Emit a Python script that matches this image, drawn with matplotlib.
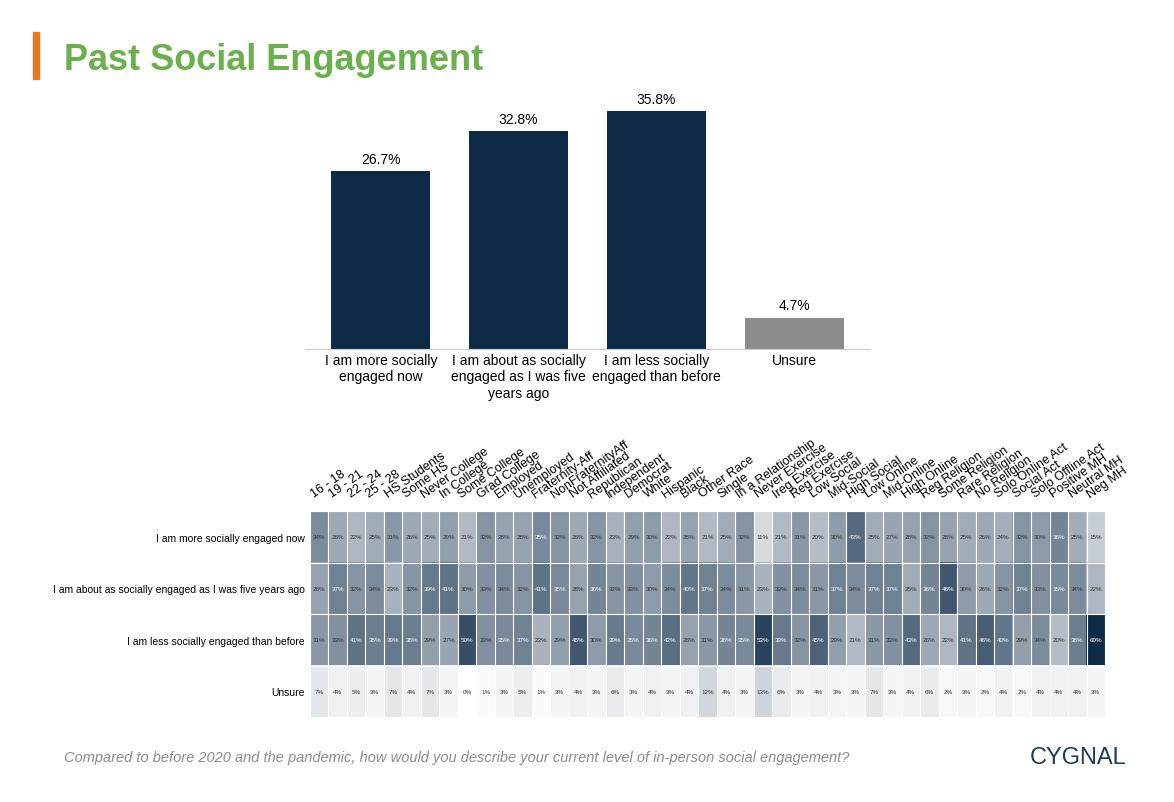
import matplotlib
matplotlib.use("Agg")
import matplotlib.pyplot as plt
import numpy as np
from matplotlib.colors import LinearSegmentedColormap

plt.rcParams['font.family'] = ['Liberation Sans', 'DejaVu Sans']

bar_labels = ["I am more socially\nengaged now", "I am about as socially\nengaged as I was five\nyears ago",
              "I am less socially\nengaged than before", "Unsure"]
bar_values = [26.7, 32.8, 35.8, 4.7]
bar_colors = ["#0d2a47", "#0d2a47", "#0d2a47", "#8c8c8c"]

groups = ["16 - 18", "19 - 21", "22 - 24", "25 - 28", "HS Students", "Some HS", "Never College", "In College",
          "Some College", "Grad College", "Employed", "Unemployed", "Fraternity-Aff", "NonFraternityAff",
          "Not Affiliated", "Republican", "Independent", "Democrat", "White", "Hispanic", "Black", "Other Race",
          "Single", "In a Relationship", "Never Exercise", "Ireg Exercise", "Reg Exercise", "Low Social",
          "Mid-Social", "High Social", "Low Online", "Mid-Online", "High Online", "Reg Religion", "Some Religion",
          "Rare Religion", "No Religion", "Solo Online Act", "Social Act", "Solo Offline Act", "Positive MH",
          "Neutral MH", "Neg MH"]
row_labels = ["I am more socially engaged now", "I am about as socially engaged as I was five years ago",
              "I am less socially engaged than before", "Unsure"]
row_more = [34,26,22,25,31,26,25,29,21,32,28,28,35,32,26,32,23,29,30,22,28,21,25,32,11,21,31,20,30,43,25,27,28,32,28,25,26,24,32,30,36,25,15]
row_same = [28,37,32,34,23,32,39,41,30,33,34,32,41,35,28,36,32,33,30,34,40,37,34,31,23,33,34,31,37,34,37,37,25,36,48,30,26,32,37,33,35,34,22]
row_less = [31,33,41,38,39,38,29,27,50,33,35,37,23,29,48,30,39,35,36,42,28,31,36,35,53,39,32,45,29,21,31,33,43,26,22,41,46,40,29,34,20,38,60]
row_unsure = [7,4,5,3,7,4,7,3,0,1,3,5,1,3,4,3,6,3,4,3,4,12,4,3,13,6,3,4,3,3,7,3,4,6,2,3,2,4,2,4,4,4,3]

W, H = 1174, 803
fig = plt.figure(figsize=(W/100, H/100), dpi=100)

# title
fig.patches.append(plt.Rectangle((33/W, 1-80/H), 6/W, 47/H, transform=fig.transFigure, color="#e87722"))
fig.text(64/W, 1-60/H, "Past Social Engagement", fontsize=26, fontweight="bold", color="#6ab04c", va="center")

# bar chart
ax = fig.add_axes([305/W, 1-350/H, 565/W, 270/H])
x = np.arange(len(bar_values))
ax.bar(x, bar_values, width=0.72, color=bar_colors)
for xi, v in zip(x, bar_values):
    ax.text(xi, v + 0.8, f"{v}%", ha="center", va="bottom", fontsize=10)
ax.set_xlim(-0.55, 3.55)
ax.set_ylim(0, 40.6)
ax.set_yticks([])
for s in ["top", "right", "left"]:
    ax.spines[s].set_visible(False)
ax.spines["bottom"].set_color("#cccccc")
ax.set_xticks(x)
ax.set_xticklabels(bar_labels, fontsize=10)
ax.tick_params(axis="x", length=0, pad=3)

# heatmap
data = np.array([row_more, row_same, row_less, row_unsure])
cmap = LinearSegmentedColormap.from_list("c", ["#ffffff", "#8f9cab", "#0d2a47"])
hx = fig.add_axes([310/W, 1-718/H, 795/W, 206/H])
hx.imshow(data, cmap=cmap, vmin=0, vmax=60, aspect="auto")
for i in range(data.shape[0]):
    for j in range(data.shape[1]):
        v = data[i, j]
        hx.text(j, i, f"{v}%", ha="center", va="center", fontsize=4.5,
                color="white" if v >= 35 else "#333333")
hx.set_xticks(np.arange(len(groups)) - 0.2)
hx.set_xticklabels(groups, rotation=35, ha="left", rotation_mode="anchor", fontsize=9)
hx.xaxis.tick_top()
hx.set_yticks(np.arange(4))
hx.set_yticklabels(row_labels, fontsize=7.5)
hx.tick_params(length=0, pad=4)
hx.tick_params(axis="x", pad=8)
hx.set_xticks(np.arange(-0.5, len(groups), 1), minor=True)
hx.set_yticks(np.arange(-0.5, 4, 1), minor=True)
hx.grid(which="minor", color="white", linewidth=0.8)
hx.tick_params(which="minor", length=0)
for s in hx.spines.values():
    s.set_visible(False)

fig.text(64/W, 1-758/H, "Compared to before 2020 and the pandemic, how would you describe your current level of in-person social engagement?",
         fontsize=10.5, style="italic", color="#8c8c8c", va="center")
fig.text(1030/W, 1-758/H, "CYGNAL", fontsize=17, color="#1f3c5a", va="center")

fig.savefig("out.png", dpi=100)
